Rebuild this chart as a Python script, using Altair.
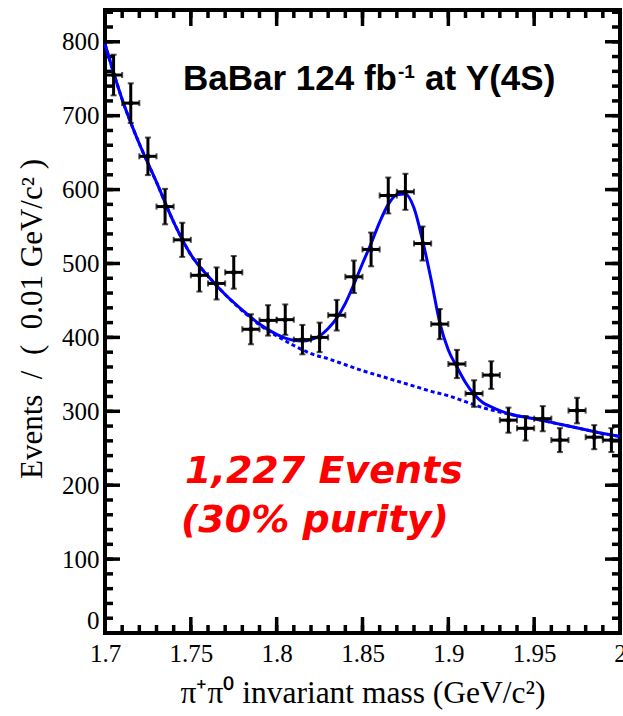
import altair as alt
import pandas as pd

# pi+ pi0 invariant mass, 0.01 GeV/c^2 bins
mass = [1.705, 1.715, 1.725, 1.735, 1.745, 1.755, 1.765, 1.775, 1.785, 1.795,
        1.805, 1.815, 1.825, 1.835, 1.845, 1.855, 1.865, 1.875, 1.885, 1.895,
        1.905, 1.915, 1.925, 1.935, 1.945, 1.955, 1.965, 1.975, 1.985, 1.995]
events = [755, 717, 645, 577, 532, 484, 473, 488, 411, 423,
          424, 397, 400, 430, 482, 519, 592, 597, 527, 418,
          364, 324, 349, 288, 277, 290, 261, 301, 265, 261]
errors = [27.5, 26.8, 25.4, 24.0, 23.1, 22.0, 21.7, 22.1, 20.3, 20.6,
          20.6, 19.9, 20.0, 20.7, 22.0, 22.8, 24.3, 24.4, 23.0, 20.4,
          19.1, 18.0, 18.7, 17.0, 16.6, 17.0, 16.2, 17.3, 16.3, 16.2]
half_bin = 0.005

# background component of the fit (dashed)
bkg_mass = [1.70, 1.71, 1.72, 1.73, 1.74, 1.75, 1.76, 1.77, 1.78, 1.79, 1.80,
            1.81, 1.82, 1.83, 1.84, 1.85, 1.86, 1.87, 1.88, 1.89, 1.90,
            1.91, 1.92, 1.93, 1.94, 1.95, 1.96, 1.97, 1.98, 1.99, 2.00]
bkg_value = [797, 722, 662, 610, 556, 512, 483, 458, 436, 417, 402,
             389, 378, 371, 363, 355, 348, 341, 334, 327, 321,
             313, 305, 299, 294, 290, 285, 280, 275, 270, 266]

# signal + background fit (solid)
fit_mass = [1.70, 1.71, 1.72, 1.73, 1.74, 1.75, 1.76, 1.77, 1.78, 1.79, 1.80,
            1.805, 1.81, 1.815, 1.82, 1.825, 1.83, 1.835, 1.84, 1.845, 1.85,
            1.855, 1.86, 1.865, 1.87, 1.875, 1.88, 1.885, 1.89, 1.895, 1.90,
            1.905, 1.91, 1.915, 1.92, 1.925, 1.93, 1.94, 1.95, 1.96, 1.97,
            1.98, 1.99, 2.00]
fit_value = [797, 722, 662, 610, 556, 512, 483, 458, 437, 418, 404,
             399, 396, 395, 397, 402, 412, 426, 446, 472, 500,
             527, 556, 580, 593, 594, 575, 531, 478, 420, 383,
             360, 339, 323, 312, 306, 301, 294, 290, 285, 280,
             275, 270, 266]

x_major = [1.70, 1.75, 1.80, 1.85, 1.90, 1.95, 2.00]
x_minor = [round(1.70 + 0.01 * i, 2) for i in range(31)]
y_major = [100 * i for i in range(9)]
y_minor = [20 * i for i in range(43)]

W, H = 515, 623
X_DOM = [1.7, 2.0]
Y_DOM = [0, 843]
SERIF = "Liberation Serif"
BLUE = "#0000ff"
EN = "\u2002"

xs = alt.Scale(domain=X_DOM, nice=False, zero=False)
ys = alt.Scale(domain=Y_DOM, nice=False, zero=False)

pts = pd.DataFrame({"m": mass, "n": events, "e": errors})
bkg = pd.DataFrame({"m": bkg_mass, "v": bkg_value})
fit = pd.DataFrame({"m": fit_mass, "v": fit_value})

base_pts = alt.Chart(pts).transform_calculate(
    lo="datum.n - datum.e", hi="datum.n + datum.e",
    left=f"datum.m - {half_bin}", right=f"datum.m + {half_bin}")

# axes: labels only; frame ticks are drawn below as rules pointing inward
frame = alt.Chart(pd.DataFrame({"m": [1.7], "n": [0]})).mark_point(opacity=0).encode(
    x=alt.X("m:Q", scale=xs, title=None,
            axis=alt.Axis(values=x_major, domain=False, ticks=False, tickSize=0, grid=False,
                          labelExpr="format(datum.value, '~g')",
                          labelFont=SERIF, labelFontSize=25, labelColor="black",
                          labelPadding=8, labelFlush=False, labelOverlap=False)),
    y=alt.Y("n:Q", scale=ys, title=None,
            axis=alt.Axis(values=y_major, domain=False, ticks=False, tickSize=0, grid=False,
                          labelFont=SERIF, labelFontSize=25, labelColor="black",
                          labelBaseline={"condition": {"test": "datum.value == 0",
                                                       "value": "bottom"},
                                         "value": "middle"},
                          labelPadding=6, labelFlush=False, labelOverlap=False)),
)

def xticks(vals, length, top):
    df = pd.DataFrame({"t": vals})
    y0, y1 = (0, length) if top else (H, H - length)
    return alt.Chart(df).mark_rule(color="black", strokeWidth=3.5).encode(
        x=alt.X("t:Q", scale=xs), y=alt.value(y0), y2=alt.value(y1))

def yticks(vals, length, right):
    df = pd.DataFrame({"t": vals})
    x0, x1 = (W, W - length) if right else (0, length)
    return alt.Chart(df).mark_rule(color="black", strokeWidth=3.5).encode(
        y=alt.Y("t:Q", scale=ys), x=alt.value(x0), x2=alt.value(x1))

tick_layers = [
    xticks(x_minor, 8, False), xticks(x_major, 16, False),
    xticks(x_minor, 8, True), xticks(x_major, 16, True),
    yticks(y_minor, 8, False), yticks(y_major, 15, False),
    yticks(y_minor, 8, True), yticks(y_major, 15, True),
]

bkg_line = alt.Chart(bkg).mark_line(color=BLUE, strokeWidth=3, strokeDash=[4, 3],
                                    interpolate="monotone").encode(
    x=alt.X("m:Q", scale=xs), y=alt.Y("v:Q", scale=ys))
fit_line = alt.Chart(fit).mark_line(color=BLUE, strokeWidth=3,
                                    interpolate="monotone").encode(
    x=alt.X("m:Q", scale=xs), y=alt.Y("v:Q", scale=ys))

vbar = base_pts.mark_rule(color="black", strokeWidth=3).encode(
    x=alt.X("m:Q", scale=xs), y=alt.Y("lo:Q", scale=ys), y2="hi:Q")
hbar = base_pts.mark_rule(color="black", strokeWidth=3).encode(
    x=alt.X("left:Q", scale=xs), x2="right:Q", y=alt.Y("n:Q", scale=ys))
vcap_lo = base_pts.mark_tick(color="black", orient="horizontal", size=6, thickness=2).encode(
    x=alt.X("m:Q", scale=xs), y=alt.Y("lo:Q", scale=ys))
vcap_hi = base_pts.mark_tick(color="black", orient="horizontal", size=6, thickness=2).encode(
    x=alt.X("m:Q", scale=xs), y=alt.Y("hi:Q", scale=ys))
hcap_l = base_pts.mark_tick(color="black", orient="vertical", size=6, thickness=2).encode(
    x=alt.X("left:Q", scale=xs), y=alt.Y("n:Q", scale=ys))
hcap_r = base_pts.mark_tick(color="black", orient="vertical", size=6, thickness=2).encode(
    x=alt.X("right:Q", scale=xs), y=alt.Y("n:Q", scale=ys))
dots = base_pts.mark_circle(color="black", size=25, opacity=1).encode(
    x=alt.X("m:Q", scale=xs), y=alt.Y("n:Q", scale=ys))

def label(text, x, y, **style):
    return alt.Chart(pd.DataFrame({"t": [text]})).mark_text(**style).encode(
        text="t:N", x=alt.value(x), y=alt.value(y))

head = dict(font="Liberation Sans", fontWeight="bold",
            color="black", align="left", baseline="alphabetic")
red = dict(font="DejaVu Sans", fontWeight="bold", fontStyle="italic",
           color="#ff0000", align="left", baseline="alphabetic", fontSize=38)

y_title = f"Events{EN}/{EN}({EN}0.01 GeV/c\u00b2 )"

texts = [
    label("BaBar 124 fb", 78, 80, fontSize=35, **head),
    label("-1", 293, 68, fontSize=19, **head),
    label("at \u03a5(4S)", 320, 80, fontSize=35, **head),
    label("1,227 Events", 80, 473, **red),
    label("(30% purity)", 76, 522, **red),
    label("\u03c0\u207a\u03c0\u2070 invariant mass (GeV/c\u00b2)", 258, 693,
          font=SERIF, fontSize=31.5, color="black", align="center", baseline="alphabetic"),
    label(y_title, -72, 309, angle=270,
          font=SERIF, fontSize=31, color="black", align="center", baseline="middle"),
]

chart = alt.layer(
    frame, *tick_layers, bkg_line, fit_line,
    vbar, hbar, vcap_lo, vcap_hi, hcap_l, hcap_r, dots, *texts
).properties(
    width=W, height=H,
    autosize=alt.AutoSizeParams(type="none"),
    padding={"left": 105, "top": 10, "right": 3, "bottom": 83},
    background="white",
).configure_view(stroke="black", strokeWidth=4)

chart.save("out.html", embed_options={"renderer": "svg", "actions": False})
